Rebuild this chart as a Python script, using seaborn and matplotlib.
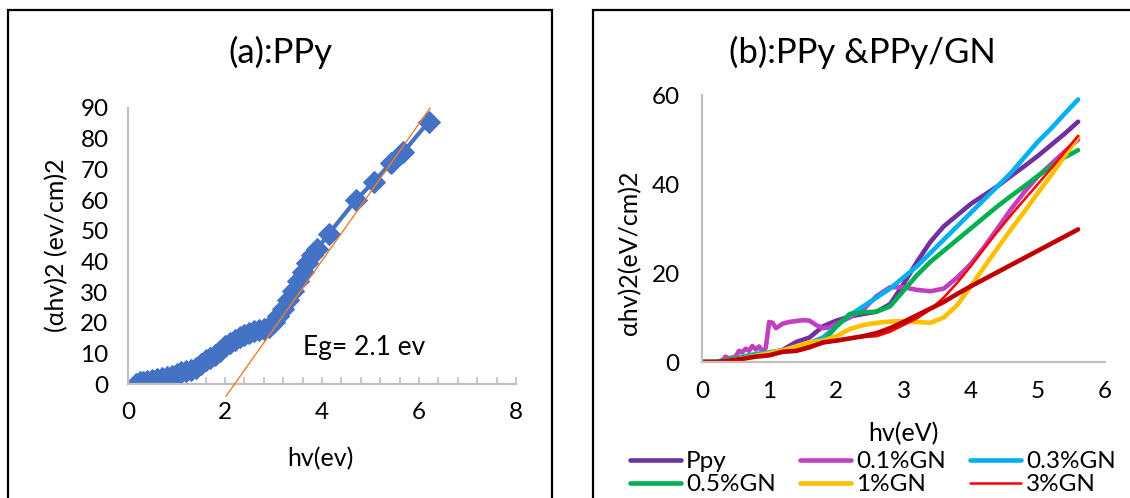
import numpy as np
import pandas as pd
import matplotlib
matplotlib.use("Agg")
import matplotlib.pyplot as plt
import matplotlib.patches as mpatches
from matplotlib.lines import Line2D
import seaborn as sns

# ---------------- data: panel (a) ----------------
hv_a = [0.17, 0.25, 0.3, 0.4, 0.5, 0.6, 0.7, 0.8, 0.9, 1.0, 1.1, 1.2, 1.3, 1.4,
        1.5, 1.6, 1.7, 1.8, 1.9, 2.0, 2.1, 2.2, 2.3, 2.4, 2.5, 2.6, 2.7, 2.8,
        2.9, 3.0, 3.1, 3.2, 3.3, 3.4, 3.5, 3.6, 3.7, 3.8, 3.9, 4.14, 4.7, 5.07,
        5.42, 5.67, 6.2]
ahv_a = [0.0, 0.5, 0.8, 1.0, 1.3, 1.6, 1.9, 2.3, 2.7, 3.2, 3.8, 4.3, 4.6, 5.2,
         6.6, 7.8, 8.4, 9.3, 10.8, 12.3, 13.5, 14.4, 15.2, 15.9, 16.5, 17.2, 17.6, 18.0,
         18.6, 20.2, 22.3, 24.6, 27.5, 30.3, 33.5, 36.5, 39.5, 42.0, 44.0, 49.0, 60.0, 66.0,
         72.0, 75.5, 85.5]
fit_x = [2.02, 6.23]
fit_y = [-4.0, 90.0]

# ---------------- data: panel (b) ----------------
hv_b = [0.0, 0.2, 0.4, 0.6, 0.8, 1.0, 1.2, 1.4, 1.6, 1.8, 2.0, 2.2, 2.4, 2.6, 2.8,
        3.0, 3.2, 3.4, 3.6, 3.8, 4.0, 4.2, 4.4, 4.6, 4.8, 5.0, 5.2, 5.4, 5.6]
ppy = [0, 0, 0.5, 1.0, 1.5, 2.0, 2.7, 4.5, 5.5, 8.0, 9.3, 10.2, 10.8, 11.3, 13.0,
       17.5, 22.5, 27.0, 30.5, 33.0, 35.5, 37.5, 39.5, 41.8, 44.0, 46.3, 48.8, 51.3, 54.0]
gn03 = [0, 0, 0.6, 1.2, 1.8, 2.2, 2.6, 3.3, 4.2, 5.5, 8.0, 10.5, 12.5, 14.5, 16.5,
        19.0, 21.5, 24.5, 27.5, 30.5, 33.5, 36.5, 39.5, 42.5, 46.0, 49.5, 52.5, 55.8, 59.0]
gn05 = [0, 0, 0.5, 1.0, 1.5, 2.0, 2.3, 2.8, 3.5, 4.5, 8.0, 10.8, 11.2, 11.3, 12.5,
        16.0, 19.5, 22.5, 25.0, 27.5, 30.0, 32.5, 35.0, 37.3, 39.5, 41.8, 44.0, 46.0, 47.6]
gn1 = [0, 0, 0.3, 0.8, 1.4, 2.0, 2.6, 3.5, 4.4, 4.8, 5.8, 7.4, 8.3, 8.8, 9.1,
       9.2, 9.0, 8.8, 10.0, 12.8, 17.0, 21.3, 25.6, 29.8, 33.8, 38.0, 42.0, 46.3, 50.6]
gn3 = [0, 0, 0.3, 0.6, 1.2, 1.5, 2.3, 2.4, 3.2, 4.2, 4.7, 5.2, 5.6, 5.8, 6.8,
       8.3, 9.8, 11.8, 14.5, 17.8, 21.5, 25.5, 29.3, 33.0, 36.5, 40.0, 43.5, 47.2, 50.8]
dark = [0, 0, 0.3, 0.7, 1.2, 1.5, 2.3, 2.5, 3.3, 4.4, 4.8, 5.3, 5.8, 6.5, 7.6,
        9.0, 10.5, 12.0, 13.5, 15.3, 17.0, 18.6, 20.2, 21.8, 23.4, 25.0, 26.6, 28.2, 29.8]

hv_b01 = [0.0, 0.2, 0.3, 0.35, 0.4, 0.5, 0.55, 0.6, 0.65, 0.7, 0.75, 0.8, 0.85, 0.9,
          0.95, 1.0, 1.05, 1.1, 1.2, 1.3, 1.4, 1.5, 1.6, 1.7, 1.8, 1.9, 2.0, 2.2,
          2.4, 2.6, 2.8, 3.0, 3.2, 3.4, 3.6, 3.8, 4.0, 4.2, 4.4, 4.6, 4.8, 5.0,
          5.2, 5.4, 5.6]
gn01 = [0, 0, 0.3, 1.2, 0.8, 1.2, 2.5, 2.2, 3.0, 2.5, 3.6, 2.8, 3.5, 2.4,
        3.2, 9.0, 8.8, 7.6, 8.6, 9.0, 9.2, 9.4, 9.3, 8.3, 7.6, 7.8, 8.6, 10.0,
        11.8, 14.8, 16.8, 16.8, 16.2, 15.9, 16.5, 19.0, 22.0, 25.8, 30.0, 34.3, 38.2, 41.7,
        44.5, 47.3, 50.0]

legend_labels = ["Ppy", "0.1%GN", "0.3%GN", "0.5%GN", "1%GN", "3%GN"]

# ---------------- style ----------------
sns.set_theme(style="white")
plt.rcParams["font.family"] = ["Lato", "DejaVu Sans"]
plt.rcParams["text.color"] = "black"
plt.rcParams["axes.labelcolor"] = "black"
plt.rcParams["xtick.color"] = "black"
plt.rcParams["ytick.color"] = "black"

W, H = 1130, 498
fig = plt.figure(figsize=(W / 100, H / 100), dpi=100)
fig.patch.set_facecolor("white")

axL = fig.add_axes([128 / W, 1 - 384 / H, 388 / W, 276 / H])
axR = fig.add_axes([702 / W, 1 - 362 / H, 403 / W, 267 / H])

spine_c = "#C0C0C0"
tick_fs = 17.5
lab_fs = 18
title_fs = 25

# ---------------- panel (a) ----------------
sns.lineplot(x=hv_a, y=ahv_a, ax=axL, color="#4472C4", lw=3, marker="D",
             markersize=11, markeredgecolor="#4472C4", sort=False, estimator=None,
             legend=False)
axL.plot(fit_x, fit_y, color="#ED7D31", lw=1.0, clip_on=False, zorder=5)
axL.set_xlim(0, 8)
axL.set_ylim(0, 90)
axL.set_xticks([0, 2, 4, 6, 8])
axL.set_xticks(np.arange(0, 8.01, 0.4), minor=True)
axL.set_yticks(np.arange(0, 91, 10))
axL.tick_params(axis="x", which="both", direction="in", length=5, width=1.2,
                color=spine_c, labelsize=tick_fs, pad=13, bottom=True)
axL.tick_params(axis="y", length=0, labelsize=tick_fs, pad=14)
axL.set_xlabel("hv(ev)", fontsize=lab_fs)
axL.set_ylabel("(αhv)2 (ev/cm)2", fontsize=lab_fs)
axL.xaxis.set_label_coords(0.495, -0.228)
axL.yaxis.set_label_coords(-0.155, 0.504)
axL.text(3.6, 12, "Eg= 2.1 ev", fontsize=19, ha="left", va="center")
for s in ["top", "right"]:
    axL.spines[s].set_visible(False)
for s in ["left", "bottom"]:
    axL.spines[s].set_color(spine_c)
    axL.spines[s].set_linewidth(1.6)
fig.text(280 / W, 1 - 52 / H, "(a):PPy", fontsize=title_fs, ha="center", va="center")

# ---------------- panel (b) ----------------
series = [
    (hv_b, ppy, "Ppy", "#7030A0", 3.3),
    (hv_b01, gn01, "0.1%GN", "#C23FC0", 3.3),
    (hv_b, gn03, "0.3%GN", "#00B0F0", 3.3),
    (hv_b, gn05, "0.5%GN", "#00B050", 3.3),
    (hv_b, gn1, "1%GN", "#FFC000", 3.3),
    (hv_b, gn3, "3%GN", "#FF0000", 1.8),
]
handles = {}
for xs, ys, name, col, lw in series:
    sns.lineplot(x=xs, y=ys, ax=axR, color=col, lw=lw, legend=False,
                 sort=False, estimator=None)
    handles[name] = Line2D([], [], color=col, lw=lw, solid_capstyle="round")
sns.lineplot(x=hv_b, y=dark, ax=axR, color="#C00000", lw=3.3, legend=False,
             sort=False, estimator=None)
for ln in axR.lines:
    ln.set_solid_capstyle("round")

axR.set_xlim(0, 6)
axR.set_ylim(0, 60)
axR.set_xticks(range(0, 7))
axR.set_yticks([0, 20, 40, 60])
axR.tick_params(axis="x", length=0, labelsize=tick_fs, pad=14)
axR.tick_params(axis="y", length=0, labelsize=tick_fs, pad=16)
axR.set_xlabel("hv(eV)", fontsize=lab_fs)
axR.set_ylabel("αhv)2(eV/cm)2", fontsize=lab_fs)
axR.xaxis.set_label_coords(0.5, -0.225)
axR.yaxis.set_label_coords(-0.151, 0.408)
for s in ["top", "right"]:
    axR.spines[s].set_visible(False)
for s in ["left", "bottom"]:
    axR.spines[s].set_color(spine_c)
    axR.spines[s].set_linewidth(1.6)
fig.text(862 / W, 1 - 52 / H, "(b):PPy &PPy/GN", fontsize=title_fs, ha="center", va="center")

order = ["Ppy", "0.5%GN", "0.1%GN", "1%GN", "0.3%GN", "3%GN"]
leg = fig.legend([handles[k] for k in order], order, loc="upper left",
                 bbox_to_anchor=(630 / W, 1 - 451 / H), ncol=3, frameon=False,
                 fontsize=17.5, handlelength=2.1, handletextpad=0.2,
                 columnspacing=1.0, labelspacing=0.1, borderpad=0,
                 borderaxespad=0)

# ---------------- panel frames ----------------
fig.add_artist(mpatches.Rectangle((8 / W, -0.1), (552 - 8) / W, 1.1 - 10 / H,
                                  transform=fig.transFigure, fill=False,
                                  edgecolor="black", lw=1.6, clip_on=False))
fig.add_artist(mpatches.Rectangle((593 / W, -0.1), 0.5, 1.1 - 10 / H,
                                  transform=fig.transFigure, fill=False,
                                  edgecolor="black", lw=1.6, clip_on=False))

fig.savefig("out.png", dpi=100)
